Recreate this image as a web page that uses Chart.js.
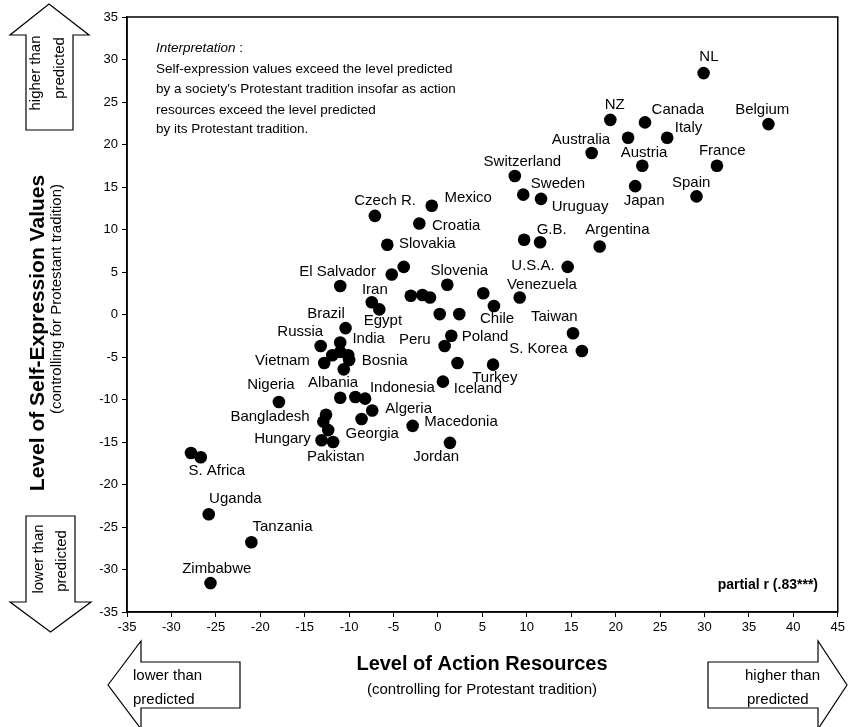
<!DOCTYPE html>
<html><head><meta charset="utf-8">
<script src="https://cdn.jsdelivr.net/npm/chart.js@4"></script>
<style>html,body{margin:0;padding:0;background:#fff}canvas{display:block}</style>
</head><body>
<canvas id="c" width="848" height="727"></canvas>
<script>
// ---- data ----
const actionResources = [29.9, 19.4, 23.3, 37.2, 21.4, 25.8, 17.3, 23.0, 31.4, 22.2, 29.1, 18.2, 9.7, 11.5, 8.65, 9.6, 11.6, -0.7, -7.1, -2.1, -5.7, 14.6, -3.85, -5.2, -11.0, 1.05, 5.1, 9.2, 6.3, -3.06, -1.75, -0.9, -7.45, -6.6, 0.2, 2.4, -10.4, 1.5, 0.75, 15.2, 16.2, 2.2, 6.2, 0.56, 1.35, -13.2, -11.0, -11.9, -11.0, -10.1, -10.0, -10.6, -12.8, -17.9, -11.0, -9.3, -8.2, -7.4, -8.6, -2.85, -12.6, -12.9, -12.35, -13.1, -11.8, -27.8, -26.7, -25.8, -21.0, -25.6];
const selfExpression = [28.4, 22.9, 22.6, 22.4, 20.8, 20.8, 19.0, 17.5, 17.5, 15.1, 13.9, 8.0, 8.8, 8.5, 16.3, 14.1, 13.6, 12.8, 11.6, 10.7, 8.2, 5.6, 5.6, 4.7, 3.35, 3.5, 2.5, 2.0, 1.0, 2.2, 2.3, 2.0, 1.45, 0.6, 0.05, 0.05, -1.6, -2.5, -3.7, -2.2, -4.3, -5.7, -5.9, -7.9, -15.1, -3.7, -3.3, -4.8, -4.4, -4.8, -5.35, -6.45, -5.7, -10.3, -9.8, -9.7, -9.9, -11.3, -12.3, -13.1, -11.8, -12.6, -13.6, -14.8, -15.0, -16.3, -16.8, -23.5, -26.8, -31.6];

const countryNames = ["NL","NZ","Canada","Belgium","Italy","Australia","Austria","France","Spain","Japan","Uruguay","Sweden","G.B.","Argentina","Switzerland","Czech R.","Mexico","Croatia","Slovakia","El Salvador","Slovenia","U.S.A.","Venezuela","Iran","Brazil","Egypt","Chile","Taiwan","Poland","S. Korea","Turkey","Iceland","Peru","Russia","India","Vietnam","Bosnia","Nigeria","Albania","Indonesia","Algeria","Bangladesh","Georgia","Hungary","Macedonia","Pakistan","Jordan","S. Africa","Uganda","Tanzania","Zimbabwe"];
const labelX = [30.5, 19.9, 27.0, 36.5, 28.2, 16.1, 23.2, 32.0, 28.5, 23.2, 16.0, 13.5, 12.8, 20.2, 9.5, -5.95, 3.4, 2.05, -1.2, -11.3, 2.4, 10.7, 11.7, -7.1, -12.6, -6.2, 6.65, 13.1, 5.3, 11.3, 6.4, 4.5, -2.6, -15.5, -7.8, -17.5, -6.0, -18.8, -11.8, -4.0, -3.3, -18.9, -7.4, -17.5, 2.6, -11.5, -0.2, -24.9, -22.8, -17.5, -24.9];
const labelY = [30.3, 24.65, 24.06, 24.06, 22.0, 20.6, 19.0, 19.3, 15.5, 13.35, 12.7, 15.35, 10.0, 9.9, 18.0, 13.4, 13.7, 10.45, 8.26, 5.0, 5.15, 5.7, 3.5, 2.9, 0.06, -0.76, -0.56, -0.26, -2.6, -4.1, -7.5, -8.8, -3.0, -2.0, -2.9, -5.4, -5.4, -8.3, -8.0, -8.6, -11.1, -12.1, -14.1, -14.6, -12.6, -16.8, -16.8, -18.4, -21.7, -25.0, -29.9];

const xTicks = [-35,-30,-25,-20,-15,-10,-5,0,5,10,15,20,25,30,35,40,45];
const yTicks = [-35,-30,-25,-20,-15,-10,-5,0,5,10,15,20,25,30,35];

const interpretationLines = [
  "Self-expression values exceed the level predicted",
  "by a society's Protestant tradition insofar as action",
  "resources exceed the level predicted",
  "by its Protestant tradition."
];

const FONT = '"Liberation Sans", Arial, Helvetica, sans-serif';

function arrow(ctx, pts){
  ctx.beginPath();
  ctx.moveTo(pts[0][0], pts[0][1]);
  for (let i=1;i<pts.length;i++) ctx.lineTo(pts[i][0], pts[i][1]);
  ctx.closePath();
  ctx.fillStyle='#fff'; ctx.fill();
  ctx.strokeStyle='#000'; ctx.lineWidth=1.2; ctx.stroke();
}
function rotText(ctx, txt, cx, cy){
  ctx.save(); ctx.translate(cx, cy); ctx.rotate(-Math.PI/2);
  ctx.fillText(txt, 0, 0); ctx.restore();
}

const decor = {
  id: 'decor',
  afterDraw(chart){
    const {ctx, chartArea:a, scales:{x, y}} = chart;
    ctx.save();
    ctx.strokeStyle='#000'; ctx.lineWidth=1.5;
    ctx.strokeRect(a.left, a.top, a.right-a.left, a.bottom-a.top);

    // country labels
    ctx.fillStyle='#000';
    ctx.font='15px '+FONT; ctx.textAlign='center'; ctx.textBaseline='middle';
    countryNames.forEach((n,i)=>ctx.fillText(n, x.getPixelForValue(labelX[i]), y.getPixelForValue(labelY[i])));

    // interpretation
    ctx.textAlign='left';
    ctx.font='italic 13.5px '+FONT;
    ctx.fillText('Interpretation', 156, 48);
    const w = ctx.measureText('Interpretation').width;
    ctx.font='13.5px '+FONT;
    ctx.fillText(' :', 156+w, 48);
    const ys=[69, 89.5, 110, 129.5];
    interpretationLines.forEach((l,i)=>ctx.fillText(l, 156, ys[i]));

    // partial r
    ctx.font='bold 14px '+FONT; ctx.textAlign='right';
    ctx.fillText('partial r (.83***)', 818, 585);

    // axis titles
    ctx.textAlign='center';
    ctx.font='bold 20px '+FONT;
    ctx.fillText('Level of Action Resources', 482, 664);
    ctx.font='15px '+FONT;
    ctx.fillText('(controlling for Protestant tradition)', 482, 690);
    ctx.font='bold 21px '+FONT;
    rotText(ctx, 'Level of Self-Expression Values', 38, 333);
    ctx.font='15px '+FONT;
    rotText(ctx, '(controlling for Protestant tradition)', 57, 299);

    // arrows
    arrow(ctx, [[49,4],[89,35],[73,35],[73,130],[26,130],[26,35],[10,35]]);
    arrow(ctx, [[26,516],[75,516],[75,602],[91,602],[50.5,632],[10,602],[26,602]]);
    arrow(ctx, [[108,685],[141,641],[141,662],[240,662],[240,708],[141,708],[141,729]]);
    arrow(ctx, [[708,662],[818,662],[818,641],[847,685],[818,729],[818,708],[708,708]]);

    ctx.fillStyle='#000'; ctx.font='15px '+FONT; ctx.textAlign='center'; ctx.textBaseline='middle';
    rotText(ctx, 'higher than', 36, 73);
    rotText(ctx, 'predicted', 60, 68);
    rotText(ctx, 'lower than', 39, 559);
    rotText(ctx, 'predicted', 61.5, 561);
    ctx.textAlign='left';
    ctx.fillText('lower than', 133, 676);
    ctx.fillText('predicted', 133, 700);
    ctx.fillText('higher than', 745, 676);
    ctx.fillText('predicted', 747, 700);
    ctx.restore();
  }
};

const points = actionResources.map((v,i)=>({x:v, y:selfExpression[i]}));

new Chart(document.getElementById('c'), {
  type: 'scatter',
  data: { datasets: [{ data: points, pointRadius: 6.3, pointHoverRadius: 6.3, backgroundColor: '#000', borderWidth: 0 }] },
  options: {
    responsive: false, animation: false, devicePixelRatio: 1,
    layout: { padding: { top: 17, right: 9, left: 0, bottom: 0 } },
    plugins: { legend: { display: false }, tooltip: { enabled: false } },
    scales: {
      x: {
        type: 'linear', min: -35, max: 45,
        afterBuildTicks: s => { s.ticks = xTicks.map(v=>({value:v})); },
        afterFit: s => { s.height = 115; },
        ticks: { color: '#000', font: { family: FONT, size: 13 }, autoSkip: false, maxRotation: 0, padding: 3 },
        grid: { drawOnChartArea: false, drawTicks: true, tickLength: 5, color: '#000', lineWidth: 1 },
        border: { display: true, color: '#000', width: 1.5 }
      },
      y: {
        type: 'linear', min: -35, max: 35,
        afterBuildTicks: s => { s.ticks = yTicks.map(v=>({value:v})); },
        afterFit: s => { s.width = 127; },
        ticks: { color: '#000', font: { family: FONT, size: 13 }, autoSkip: false, padding: 4 },
        grid: { drawOnChartArea: false, drawTicks: true, tickLength: 5, color: '#000', lineWidth: 1 },
        border: { display: true, color: '#000', width: 1.5 }
      }
    }
  },
  plugins: [decor]
});
</script>
</body></html>
